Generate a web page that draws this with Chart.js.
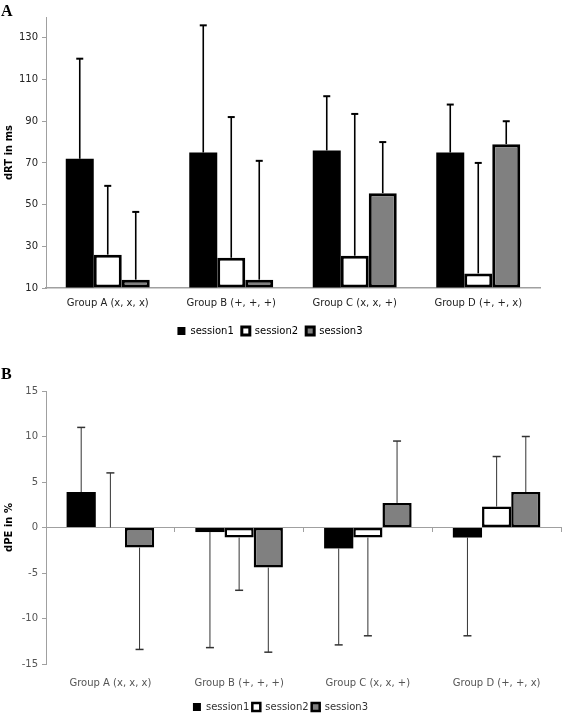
<!DOCTYPE html>
<html>
<head>
<meta charset="utf-8">
<script src="https://cdn.jsdelivr.net/npm/chart.js@4.4.0/dist/chart.umd.min.js"></script>
<style>
  html, body { margin: 0; padding: 0; background: #fff; overflow: hidden; }
  #page { position: relative; width: 562px; height: 715px; overflow: hidden; }
  .box { position: absolute; left: 0; width: 562px; }
  .tag { position: absolute; left: 1px; font: bold 16px "Liberation Serif", serif; color: #000; line-height: 16px; }
</style>
</head>
<body>
<div id="page">
  <div class="box" style="top:0;height:346px"><canvas id="chartA"></canvas></div>
  <div class="box" style="top:340px;height:382px"><canvas id="chartB"></canvas></div>
  <div class="tag" style="top:3px">A</div>
  <div class="tag" style="top:366px">B</div>
</div>
<script>
const groups = ['Group A (x, x, x)', 'Group B (+, +, +)', 'Group C (x, x, +)', 'Group D (+, +, x)'];
const sessions = ['session1', 'session2', 'session3'];

// panel A: dRT in ms (mean + upper error)
const rtS1 = [72, 75, 76, 75];
const rtS1Err = [48, 61, 26, 23];
const rtS2 = [26, 24.5, 25.5, 17];
const rtS2Err = [33, 67.5, 68, 53];
const rtS3 = [14, 14, 55.5, 79];
const rtS3Err = [32.5, 57, 24.5, 11];
const rtTicks = [10, 30, 50, 70, 90, 110, 130];

// panel B: dPE in %
const peS1 = [3.9, -0.5, -2.3, -1.1];
const peS1Err = [7.1, 12.7, 10.6, 10.8];
const peS2 = [0, -1.1, -1.1, 2.3];
const peS2Err = [6, 5.8, 10.8, 5.5];
const peS3 = [-2.2, -4.4, 2.7, 3.9];
const peS3Err = [11.2, 9.3, 6.8, 6.1];

const fills = ['#000000', '#ffffff', '#808080'];

// whiskers away from zero, drawn with the y scale
const errorBars = {
    id: 'errorBars',
    afterDatasetsDraw(chart, args, opts) {
        const ctx = chart.ctx;
        const y = chart.scales.y;
        ctx.save();
        ctx.strokeStyle = opts.color;
        chart.data.datasets.forEach((ds, i) => {
            const meta = chart.getDatasetMeta(i);
            meta.data.forEach((bar, j) => {
                const v = ds.data[j];
                const e = ds.errors[j];
                const end = v >= 0 ? v + e : v - e;
                const y0 = y.getPixelForValue(v);
                const y1 = y.getPixelForValue(end);
                ctx.lineWidth = opts.width;
                ctx.beginPath();
                ctx.moveTo(bar.x, y0);
                ctx.lineTo(bar.x, y1);
                ctx.stroke();
                ctx.lineWidth = opts.capWidth;
                ctx.beginPath();
                ctx.moveTo(bar.x - opts.cap, y1);
                ctx.lineTo(bar.x + opts.cap, y1);
                ctx.stroke();
            });
        });
        ctx.restore();
    }
};

function dataset(label, data, errors, idx, bw, base) {
    const ds = {
        label: label,
        data: data,
        errors: errors,
        backgroundColor: fills[idx],
        borderColor: '#000',
        borderWidth: idx === 0 ? 0 : bw,
        borderSkipped: false
    };
    if (base !== undefined) ds.base = base;
    return ds;
}

const barOpts = { barPercentage: 1, categoryPercentage: 0.68, inflateAmount: 0 };

new Chart(document.getElementById('chartA'), {
    type: 'bar',
    data: {
        labels: groups,
        datasets: [
            dataset(sessions[0], rtS1, rtS1Err, 0, 3, 10),
            dataset(sessions[1], rtS2, rtS2Err, 1, 3, 10),
            dataset(sessions[2], rtS3, rtS3Err, 2, 3, 10)
        ]
    },
    plugins: [errorBars],
    options: {
        animation: false,
        responsive: true,
        maintainAspectRatio: false,
        datasets: { bar: barOpts },
        layout: { padding: { left: 0, right: 22, top: 17, bottom: 0 } },
        plugins: {
            legend: {
                position: 'bottom',
                labels: {
                    boxWidth: 8, boxHeight: 8, padding: 8, color: '#000',
                    font: { family: 'DejaVu Sans', size: 10 }
                }
            },
            tooltip: { enabled: false },
            errorBars: { color: '#000', width: 1.6, capWidth: 2, cap: 3.5 }
        },
        scales: {
            x: {
                grid: { display: false, drawTicks: false },
                border: { color: '#a0a0a0', width: 1.5 },
                ticks: { color: '#222', padding: 9, maxRotation: 0, font: { family: 'DejaVu Sans', size: 10 } },
                afterFit: s => { s.height = 30; }
            },
            y: {
                min: 10,
                max: 140,
                afterBuildTicks: s => { s.ticks = rtTicks.map(v => ({ value: v })); },
                grid: { drawOnChartArea: false, tickLength: 4, tickColor: '#a0a0a0' },
                border: { color: '#a0a0a0' },
                ticks: { color: '#222', padding: 4, font: { family: 'DejaVu Sans', size: 10 } },
                title: {
                    display: true, text: 'dRT in ms', color: '#000',
                    padding: { top: 3, bottom: 0 },
                    font: { family: 'DejaVu Sans', size: 10, weight: 'bold' }
                },
                afterFit: s => { s.width = 46; }
            }
        }
    }
});

new Chart(document.getElementById('chartB'), {
    type: 'bar',
    data: {
        labels: groups,
        datasets: [
            dataset(sessions[0], peS1, peS1Err, 0, 2.5),
            dataset(sessions[1], peS2, peS2Err, 1, 2.5),
            dataset(sessions[2], peS3, peS3Err, 2, 2.5)
        ]
    },
    plugins: [errorBars],
    options: {
        animation: false,
        responsive: true,
        maintainAspectRatio: false,
        datasets: { bar: barOpts },
        layout: { padding: { left: 0, right: 1, top: 51, bottom: 0 } },
        plugins: {
            legend: {
                position: 'bottom',
                labels: {
                    boxWidth: 8, boxHeight: 8, padding: 3, color: '#333',
                    font: { family: 'DejaVu Sans', size: 10 }
                }
            },
            tooltip: { enabled: false },
            errorBars: { color: '#333', width: 1, capWidth: 1.5, cap: 4 }
        },
        scales: {
            x: {
                grid: { display: false, drawTicks: false },
                border: { display: false },
                ticks: { color: '#555', padding: 13, maxRotation: 0, font: { family: 'DejaVu Sans', size: 10 } },
                afterFit: s => { s.height = 35; }
            },
            x2: {
                type: 'category',
                position: { y: 0 },
                offset: true,
                grid: { display: true, offset: true, drawOnChartArea: false, tickLength: 4, tickColor: '#a0a0a0', color: '#a0a0a0' },
                border: { display: true, color: '#a0a0a0' },
                ticks: { display: false }
            },
            y: {
                min: -15,
                max: 15,
                ticks: { stepSize: 5, color: '#555', padding: 4, font: { family: 'DejaVu Sans', size: 10 } },
                grid: { drawOnChartArea: false, tickLength: 4, tickColor: '#a0a0a0' },
                border: { color: '#a0a0a0' },
                title: {
                    display: true, text: 'dPE in %', color: '#000',
                    padding: { top: 3, bottom: 0 },
                    font: { family: 'DejaVu Sans', size: 10, weight: 'bold' }
                },
                afterFit: s => { s.width = 46; }
            }
        }
    }
});
</script>
</body>
</html>
